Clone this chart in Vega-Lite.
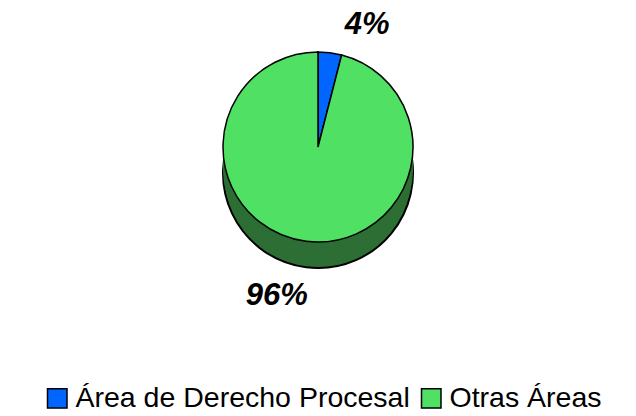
{
  "$schema": "https://vega.github.io/schema/vega-lite/v6.json",
  "width": 636,
  "height": 294,
  "padding": 0,
  "autosize": {"type": "pad"},
  "background": "white",
  "config": {"view": {"stroke": null}, "font": "Liberation Sans"},
  "data": {"values": [
    {"categoria": "Área de Derecho Procesal", "valor": 4, "etiqueta": "4%"},
    {"categoria": "Otras Áreas", "valor": 96, "etiqueta": "96%"}
  ]},
  "encoding": {
    "theta": {"field": "valor", "type": "quantitative", "stack": true},
    "order": {"field": "valor", "sort": "ascending"}
  },
  "layer": [
    {"mark": {"type": "arc", "radius": 95, "yOffset": 26, "stroke": "black", "strokeWidth": 2, "fill": "#2C6E34"}},
    {"mark": {"type": "arc", "radius": 95, "yOffset": 21, "fill": "#2C6E34"}},
    {"mark": {"type": "arc", "radius": 95, "yOffset": 16, "fill": "#2C6E34"}},
    {"mark": {"type": "arc", "radius": 95, "yOffset": 11, "fill": "#2C6E34"}},
    {"mark": {"type": "arc", "radius": 95, "yOffset": 6, "fill": "#2C6E34"}},
    {"mark": {"type": "arc", "radius": 95, "yOffset": 2, "fill": "#2C6E34"}},
    {
      "mark": {"type": "arc", "radius": 95, "stroke": "black", "strokeWidth": 1.5},
      "encoding": {
        "color": {
          "field": "categoria",
          "type": "nominal",
          "scale": {"domain": ["Área de Derecho Procesal", "Otras Áreas"], "range": ["#0066FF", "#4FE064"]},
          "legend": {
            "title": null,
            "orient": "none",
            "legendX": 43,
            "legendY": 384,
            "direction": "horizontal",
            "labelFontSize": 28.5,
            "labelFont": "Liberation Sans",
            "labelColor": "black",
            "labelOffset": 4,
            "symbolType": "square",
            "symbolSize": 380,
            "symbolStrokeColor": "black",
            "symbolStrokeWidth": 1.5,
            "symbolOpacity": 1,
            "columnPadding": 7,
            "labelLimit": 500
          }
        }
      }
    },
    {
      "transform": [{"filter": "datum.valor < 50"}],
      "mark": {"type": "text", "radius": 128, "dx": 33, "dy": 5, "fontSize": 31, "fontWeight": "bold", "fontStyle": "italic", "font": "Liberation Sans", "color": "black"},
      "encoding": {"text": {"field": "etiqueta", "type": "nominal"}}
    },
    {
      "transform": [{"filter": "datum.valor >= 50"}],
      "mark": {"type": "text", "radius": 150, "dx": -60, "dy": 0, "fontSize": 31, "fontWeight": "bold", "fontStyle": "italic", "font": "Liberation Sans", "color": "black"},
      "encoding": {"text": {"field": "etiqueta", "type": "nominal"}}
    }
  ]
}
